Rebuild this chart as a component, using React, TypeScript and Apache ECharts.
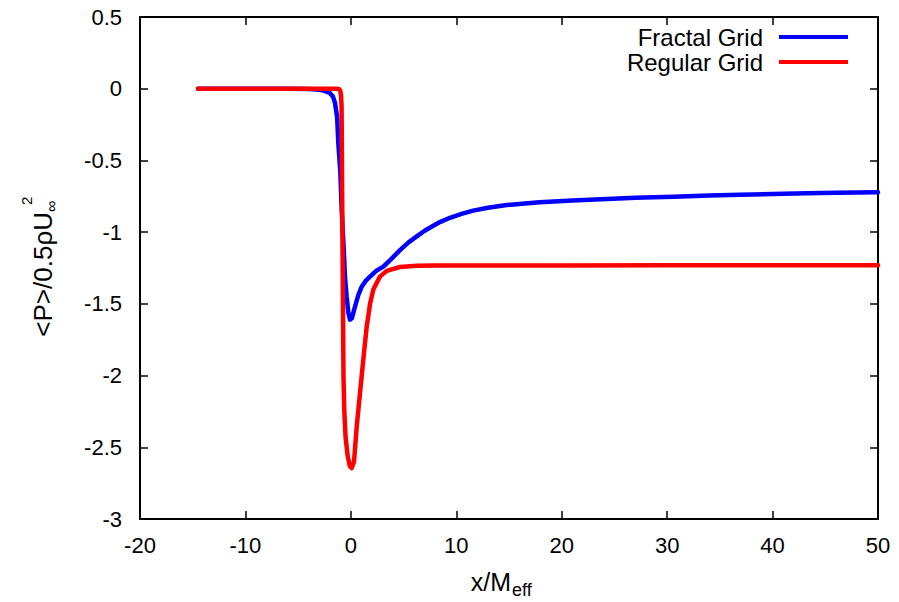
import React, { useEffect, useRef } from "react";
import * as echarts from "echarts";

const xTicksMin = -20;
const xTicksMax = 50;
const xTickStep = 10;
const yTicksMin = -3;
const yTicksMax = 0.5;
const yTickStep = 0.5;

const seriesNames = ["Fractal Grid", "Regular Grid"];

const fractalX = [
  -14.5, -10, -6, -4, -3, -2.5, -2, -1.7, -1.5, -1.3, -1.19, -1.0, -0.87, -0.7, -0.56, -0.4,
  -0.24, -0.08, 0.1, 0.39, 0.7, 1.03, 1.4, 1.82, 2.4, 3.08, 3.8, 4.66, 5.5, 6.25, 7.0, 7.82,
  8.45, 9.4, 10.5, 11.6, 13, 14.8, 16.5, 17.9, 21, 24.3, 27, 30.6, 34, 36.9, 40, 43.2, 46, 50,
];
const fractalY = [
  0, 0, 0, -0.002, -0.008, -0.015, -0.03, -0.055, -0.1, -0.2, -0.38, -0.58, -0.846, -1.08, -1.31,
  -1.45, -1.56, -1.61, -1.6, -1.52, -1.44, -1.38, -1.34, -1.31, -1.27, -1.24, -1.19, -1.125, -1.07,
  -1.03, -0.99, -0.955, -0.93, -0.9, -0.873, -0.85, -0.83, -0.811, -0.8, -0.792, -0.78, -0.769,
  -0.761, -0.753, -0.745, -0.739, -0.734, -0.729, -0.726, -0.722,
];

const regularX = [
  -14.5, -10, -5, -2, -1.3, -1.1, -1.0, -0.93, -0.88, -0.8, -0.7, -0.62, -0.5, -0.3, -0.1, 0.08,
  0.3, 0.55, 0.87, 1.18, 1.5, 1.82, 2.13, 2.76, 3.4, 4.66, 6.25, 8, 12, 20, 30, 40, 50,
];
const regularY = [
  0, 0, 0, 0, 0, -0.003, -0.015, -0.05, -0.12, -1.0, -2.0, -2.25, -2.43, -2.56, -2.63, -2.645,
  -2.6, -2.36, -2.12, -1.89, -1.66, -1.5, -1.4, -1.31, -1.27, -1.243, -1.235, -1.233, -1.232,
  -1.232, -1.231, -1.231, -1.231,
];

const FONT = "'Liberation Sans', Arial, Helvetica, sans-serif";

function pairs(xs: number[], ys: number[]) {
  return xs.map((x, i) => [x, ys[i]]);
}

export default function App() {
  const ref = useRef<HTMLDivElement>(null);
  useEffect(() => {
    if (!ref.current) return;
    const chart = echarts.init(ref.current, undefined, { renderer: "svg" });
    const axisLine = { show: true, onZero: false, lineStyle: { color: "#000", width: 2 } };
    const axisTick = { show: true, inside: true, length: 8, lineStyle: { color: "#000", width: 1.5 } };
    const labelStyle = { color: "#000", fontSize: 22, fontFamily: FONT };
    chart.setOption({
      animation: false,
      backgroundColor: "#fff",
      grid: {
        left: 140,
        right: 21,
        top: 17,
        bottom: 83,
        containLabel: false,
        outerBoundsMode: "none",
        show: false,
      },
      legend: {
        data: seriesNames,
        orient: "vertical",
        right: 51,
        top: 25,
        padding: 0,
        align: "right",
        icon: "rect",
        itemWidth: 69,
        itemHeight: 4,
        itemGap: 1,
        textStyle: {
          color: "#000",
          fontSize: 24,
          fontFamily: FONT,
          lineHeight: 24,
          padding: [0, 11, 0, 0],
        },
      },
      xAxis: [
        {
          type: "value",
          min: xTicksMin,
          max: xTicksMax,
          interval: xTickStep,
          position: "bottom",
          axisLine,
          axisTick,
          axisLabel: { ...labelStyle, margin: 15 },
          splitLine: { show: false },
        },
        {
          type: "value",
          min: xTicksMin,
          max: xTicksMax,
          interval: xTickStep,
          position: "top",
          axisLine,
          axisTick,
          axisLabel: { show: false },
          splitLine: { show: false },
        },
      ],
      yAxis: [
        {
          type: "value",
          min: yTicksMin,
          max: yTicksMax,
          interval: yTickStep,
          position: "left",
          axisLine,
          axisTick,
          axisLabel: { ...labelStyle, margin: 18 },
          splitLine: { show: false },
        },
        {
          type: "value",
          min: yTicksMin,
          max: yTicksMax,
          interval: yTickStep,
          position: "right",
          axisLine,
          axisTick,
          axisLabel: { show: false },
          splitLine: { show: false },
        },
      ],
      series: [
        {
          name: seriesNames[0],
          type: "line",
          xAxisIndex: 0,
          yAxisIndex: 0,
          data: pairs(fractalX, fractalY),
          showSymbol: false,
          symbol: "none",
          lineStyle: { color: "#0000ff", width: 4.5, join: "round", cap: "round" },
          itemStyle: { color: "#0000ff" },
          z: 2,
        },
        {
          name: seriesNames[1],
          type: "line",
          xAxisIndex: 0,
          yAxisIndex: 0,
          data: pairs(regularX, regularY),
          showSymbol: false,
          symbol: "none",
          lineStyle: { color: "#ff0000", width: 4.5, join: "round", cap: "round" },
          itemStyle: { color: "#ff0000" },
          z: 3,
        },
      ],
      graphic: [
        {
          type: "group",
          x: 0,
          y: 0,
          children: [
            {
              type: "text",
              x: 511,
              y: 582,
              style: {
                text: "x/M",
                fill: "#000",
                fontSize: 25,
                fontFamily: FONT,
                align: "right",
                verticalAlign: "middle",
              },
            },
            {
              type: "text",
              x: 512,
              y: 590,
              style: {
                text: "eff",
                fill: "#000",
                fontSize: 18,
                fontFamily: FONT,
                align: "left",
                verticalAlign: "middle",
              },
            },
          ],
        },
        {
          type: "group",
          x: 43,
          y: 212,
          rotation: Math.PI / 2,
          children: [
            {
              type: "text",
              x: 0,
              y: 0,
              style: {
                text: "<P>/0.5\u03c1U",
                fill: "#000",
                fontSize: 26,
                fontFamily: FONT,
                align: "right",
                verticalAlign: "middle",
              },
            },
            {
              type: "text",
              x: 0,
              y: 8,
              style: {
                text: "\u221e",
                fill: "#000",
                fontSize: 16,
                fontFamily: FONT,
                align: "left",
                verticalAlign: "middle",
              },
            },
            {
              type: "text",
              x: 7,
              y: -17,
              style: {
                text: "2",
                fill: "#000",
                fontSize: 15,
                fontFamily: FONT,
                align: "left",
                verticalAlign: "middle",
              },
            },
          ],
        },
      ],
    });
    return () => chart.dispose();
  }, []);
  return (
    <div
      ref={ref}
      style={{ position: "fixed", left: 0, top: 0, width: 899, height: 602, background: "#fff" }}
    />
  );
}
